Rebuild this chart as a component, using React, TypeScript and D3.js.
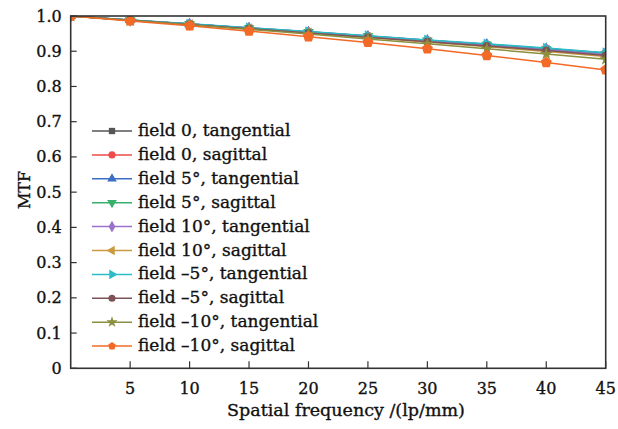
import React from "react";
import * as d3 from "d3";

const freqs = [0, 5, 10, 15, 20, 25, 30, 35, 40, 45];
const xTicks = [5, 10, 15, 20, 25, 30, 35, 40, 45];
const yTicks = [0, 0.1, 0.2, 0.3, 0.4, 0.5, 0.6, 0.7, 0.8, 0.9, 1.0];

const seriesNames = [
  "field 0, tangential",
  "field 0, sagittal",
  "field 5°, tangential",
  "field 5°, sagittal",
  "field 10°, tangential",
  "field 10°, sagittal",
  "field \u20135°, tangential",
  "field \u20135°, sagittal",
  "field \u201310°, tangential",
  "field \u201310°, sagittal",
];
const seriesColors = [
  "#555555", "#ee4b4b", "#3b6fc6", "#36b06a", "#9b72c9",
  "#c99a3e", "#2cbcc8", "#7d5358", "#8c8f3e", "#f26a26",
];
const seriesShapes = [
  "square", "circle", "triUp", "triDown", "diamond",
  "triLeft", "triRight", "circle", "star", "pentagon",
];

const f0T = [1, 0.988, 0.977, 0.965, 0.954, 0.942, 0.930, 0.918, 0.906, 0.893];
const f0S = [1, 0.988, 0.977, 0.966, 0.955, 0.943, 0.931, 0.919, 0.907, 0.894];
const f5T = [1, 0.989, 0.977, 0.966, 0.955, 0.943, 0.931, 0.920, 0.908, 0.895];
const f5S = [1, 0.988, 0.977, 0.965, 0.954, 0.942, 0.930, 0.918, 0.905, 0.892];
const f10T = [1, 0.988, 0.977, 0.965, 0.953, 0.941, 0.929, 0.916, 0.904, 0.891];
const f10S = [1, 0.988, 0.976, 0.964, 0.952, 0.939, 0.926, 0.913, 0.899, 0.885];
const fm5T = [1, 0.989, 0.978, 0.967, 0.956, 0.944, 0.932, 0.921, 0.909, 0.896];
const fm5S = [1, 0.988, 0.976, 0.964, 0.952, 0.940, 0.927, 0.915, 0.902, 0.888];
const fm10T = [1, 0.987, 0.975, 0.962, 0.949, 0.935, 0.921, 0.907, 0.892, 0.877];
const fm10S = [1, 0.986, 0.972, 0.957, 0.941, 0.925, 0.907, 0.888, 0.868, 0.847];

const seriesValues = [f0T, f0S, f5T, f5S, f10T, f10S, fm5T, fm5S, fm10T, fm10S];

const W = 618;
const H = 429;
const margin = { left: 70.7, right: 12.3, top: 16, bottom: 60.7 };

const pentagon = {
  draw(ctx: any, size: number) {
    const r = Math.sqrt(size / 2.38);
    for (let i = 0; i < 5; i++) {
      const a = -Math.PI / 2 + (i * 2 * Math.PI) / 5;
      const x = r * Math.cos(a);
      const y = r * Math.sin(a);
      if (i === 0) ctx.moveTo(x, y);
      else ctx.lineTo(x, y);
    }
    ctx.closePath();
  },
};

function markerPath(shape: string, size: number): { d: string; rot: number } {
  let type: any = d3.symbolCircle;
  let rot = 0;
  switch (shape) {
    case "square": type = d3.symbolSquare; break;
    case "circle": type = d3.symbolCircle; break;
    case "triUp": type = d3.symbolTriangle; break;
    case "triDown": type = d3.symbolTriangle; rot = 180; break;
    case "triLeft": type = d3.symbolTriangle; rot = -90; break;
    case "triRight": type = d3.symbolTriangle; rot = 90; break;
    case "diamond": type = d3.symbolDiamond; break;
    case "star": type = d3.symbolStar; break;
    case "pentagon": type = pentagon; break;
  }
  return { d: d3.symbol().type(type).size(size)() || "", rot };
}

export default function App() {
  const x = d3.scaleLinear().domain([0, 45]).range([margin.left, W - margin.right]);
  const y = d3.scaleLinear().domain([0, 1]).range([H - margin.bottom, margin.top]);
  const line = d3
    .line<number>()
    .x((_, i) => x(freqs[i]))
    .y((v) => y(v));

  const font = "'DejaVu Serif', serif";
  const textColor = "#111";
  const textStroke = { stroke: "#111", strokeWidth: 0.35 };
  const x0 = margin.left;
  const x1 = W - margin.right;
  const y0 = H - margin.bottom;
  const y1 = margin.top;

  const legendX = 92;
  const legendY = 131;
  const legendStep = 23.9;

  return (
    <svg width={W} height={H} style={{ position: "absolute", left: 0, top: 0, background: "#fff" }}>
      <defs>
        <clipPath id="plotclip">
          <rect x={x0} y={y1} width={x1 - x0} height={y0 - y1} />
        </clipPath>
      </defs>
      <g clipPath="url(#plotclip)">
        {seriesValues.map((vals, si) => (
          <g key={si}>
            <path d={line(vals) || ""} fill="none" stroke={seriesColors[si]} strokeWidth={1.5} />
            {vals.map((v, i) => {
              const m = markerPath(seriesShapes[si], si === 9 ? 80 : 50);
              return (
                <path
                  key={i}
                  d={m.d}
                  transform={`translate(${x(freqs[i])},${y(v)}) rotate(${m.rot})`}
                  fill={seriesColors[si]}
                />
              );
            })}
          </g>
        ))}
      </g>
      {/* frame */}
      <rect x={x0} y={y1} width={x1 - x0} height={y0 - y1} fill="none" stroke="#333" strokeWidth={1.6} />
      {/* y ticks */}
      {yTicks.map((t) => (
        <g key={"y" + t}>
          <line x1={x0} x2={x0 + 6} y1={y(t)} y2={y(t)} stroke="#333" strokeWidth={1.2} />
          <text
            x={x0 - 9}
            y={y(t) + 5.5}
            textAnchor="end"
            fontFamily={font}
            fontSize={16}
            fill={textColor}
            {...textStroke}
          >
            {t === 0 ? "0" : t.toFixed(1)}
          </text>
        </g>
      ))}
      {/* x ticks */}
      {xTicks.map((t) => (
        <g key={"x" + t}>
          <line x1={x(t)} x2={x(t)} y1={y0} y2={y0 - 7} stroke="#333" strokeWidth={1.2} />
          <text
            x={x(t)}
            y={394}
            textAnchor="middle"
            fontFamily={font}
            fontSize={16}
            fill={textColor}
            {...textStroke}
          >
            {t}
          </text>
        </g>
      ))}
      <text
        x={24}
        y={190}
        transform={`rotate(-90, 24, 190)`}
        textAnchor="middle"
        dominantBaseline="central"
        fontFamily={font}
        fontSize={16}
        fill={textColor}
        {...textStroke}
      >
        MTF
      </text>
      <text
        x={346}
        y={416}
        textAnchor="middle"
        fontFamily={font}
        fontSize={17.5}
        fill={textColor}
        {...textStroke}
      >
        Spatial frequency /(lp/mm)
      </text>
      {/* legend */}
      {seriesNames.map((name, si) => {
        const ly = legendY + si * legendStep;
        const m = markerPath(seriesShapes[si], 40);
        return (
          <g key={"l" + si}>
            <line x1={legendX} x2={legendX + 40} y1={ly} y2={ly} stroke={seriesColors[si]} strokeWidth={1.5} />
            <path d={m.d} transform={`translate(${legendX + 20},${ly}) rotate(${m.rot})`} fill={seriesColors[si]} />
            <text
              x={legendX + 46}
              y={ly + 5}
              fontFamily={font}
              fontSize={17}
              fill={textColor}
              {...textStroke}
            >
              {name}
            </text>
          </g>
        );
      })}
    </svg>
  );
}
